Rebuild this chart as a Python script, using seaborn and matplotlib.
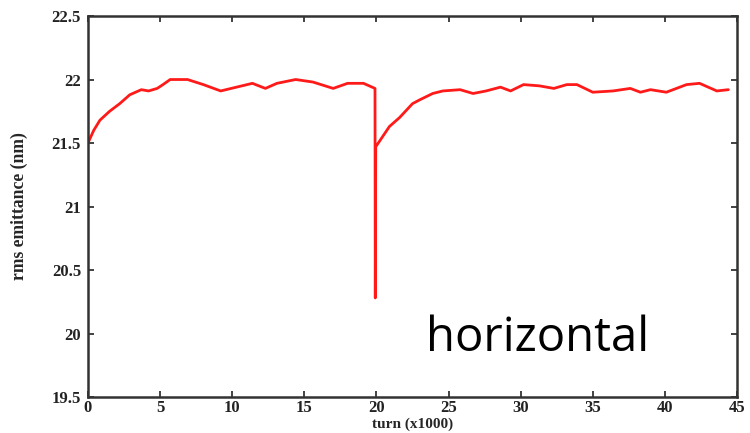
import matplotlib
matplotlib.use("Agg")
import matplotlib.pyplot as plt
import seaborn as sns
import pandas as pd

turn = [0.0, 0.4, 0.83, 1.5, 2.2, 2.9, 3.7, 4.2, 4.8, 5.2, 5.7, 6.9, 8.0, 9.2, 10.3, 11.4, 12.3,
        13.1, 14.4, 15.6, 17.0, 18.0, 19.1, 19.9, 19.92, 19.95,
        20.9, 21.6, 22.5, 23.0, 23.9, 24.6, 25.8, 26.7, 27.6, 28.6, 29.3, 30.2, 31.3,
        32.3, 33.2, 33.9, 35.0, 36.4, 37.6, 38.3, 39.0, 40.1, 40.8, 41.5, 42.4, 43.6, 44.4]
emittance = [21.50, 21.60, 21.68, 21.75, 21.81, 21.88, 21.92, 21.91, 21.93, 21.96, 22.00, 22.00, 21.96, 21.91, 21.94, 21.97, 21.93,
             21.97, 22.00, 21.98, 21.93, 21.97, 21.97, 21.93, 20.28, 21.47,
             21.63, 21.70, 21.81, 21.84, 21.89, 21.91, 21.92, 21.89, 21.91, 21.94, 21.91, 21.96, 21.95,
             21.93, 21.96, 21.96, 21.90, 21.91, 21.93, 21.90, 21.92, 21.90, 21.93, 21.96, 21.97, 21.91, 21.92]

df = pd.DataFrame({"turn": turn, "emittance": emittance})

sns.set_theme(style="ticks")
plt.rcParams['font.family'] = ['Liberation Serif', 'DejaVu Serif']

fig = plt.figure(figsize=(7.5, 4.33), dpi=100)
ax = fig.add_axes([0.1173, 0.0831, 0.8654, 0.8799])
sns.lineplot(data=df, x="turn", y="emittance", ax=ax, color="#ff1a1a", linewidth=2.0,
             estimator=None, sort=False)

ax.set_xlim(0, 45)
ax.set_ylim(19.5, 22.5)
ax.set_xticks(range(0, 46, 5))
ax.set_yticks([19.5, 20, 20.5, 21, 21.5, 22, 22.5])
ax.set_yticklabels(["19.5", "20", "20.5", "21", "21.5", "22", "22.5"])
ax.tick_params(direction="in", top=True, right=True, length=4, width=1.2, labelsize=12, pad=2, colors="#222222")
ax.tick_params(axis="y", pad=5)
for lab in ax.get_xticklabels() + ax.get_yticklabels():
    lab.set_fontweight("bold")
for s in ax.spines.values():
    s.set_linewidth(1.8)
    s.set_color("#333333")
ax.set_xlabel("turn (x1000)", fontsize=11, fontweight="bold", labelpad=0)
ax.xaxis.set_label_coords(0.5, -0.054)
ax.xaxis.label.set_va("top")
ax.set_ylabel("rms emittance (nm)", fontsize=12.7, fontweight="bold")
ax.yaxis.set_label_coords(-0.093, 0.5)
ax.text(0.693, 0.155, "horizontal", transform=ax.transAxes, fontsize=34,
        family="Open Sans", ha="center", va="center", color="black")

fig.savefig("out.png", dpi=100)
